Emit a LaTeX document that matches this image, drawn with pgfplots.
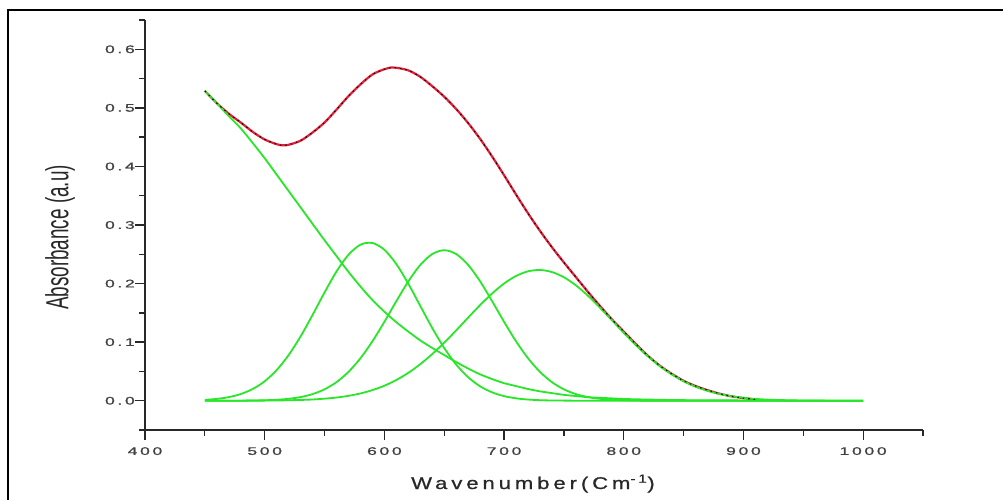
\documentclass[border=0pt]{standalone}
\usepackage{fontspec}
\setmainfont{Liberation Sans}
\newfontfamily\tickfont[LetterSpace=15,FakeBold=0.8]{Liberation Sans}
\newfontfamily\xlabfont[FakeStretch=1.3,LetterSpace=23,FakeBold=0.8]{Liberation Sans}
\newfontfamily\ylabfont[FakeStretch=0.59]{Liberation Sans}
\usepackage{graphicx}
\usepackage{pgfplots}
\pgfplotsset{compat=1.18}
\newcommand{\TickLab}[1]{\scalebox{1.6}[1]{\tickfont\fontsize{11}{13}\selectfont #1}}
\definecolor{fitgreen}{RGB}{40,230,40}
\definecolor{fitred}{RGB}{228,30,55}
\definecolor{axgray}{RGB}{40,40,40}
\definecolor{tickgray}{RGB}{65,65,65}
\begin{document}
\begin{tikzpicture}[x=1pt,y=1pt]
\path[use as bounding box] (0,0) rectangle (1003,499);
\draw[line width=2pt,black] (8,-2) -- (8,489) -- (1005,489);
\begin{axis}[
  scale only axis,
  width=778pt, height=410pt,
  at={(145pt,69pt)}, anchor=south west,
  xmin=400, xmax=1050, ymin=-0.05, ymax=0.65,
  axis lines*=left,
  axis line style={line width=1.5pt, axgray, -},
  tick align=outside,
  major tick length=10pt, minor tick length=6pt,
  tick style={line width=1.3pt, axgray},
  xtick={400,500,600,700,800,900,1000},
  xticklabels={\TickLab{400},\TickLab{500},\TickLab{600},\TickLab{700},\TickLab{800},\TickLab{900},\TickLab{1000}},
  minor xtick={450,550,650,750,850,950,1050},
  ytick={0,0.1,0.2,0.3,0.4,0.5,0.6},
  yticklabels={\TickLab{0.0},\TickLab{0.1},\TickLab{0.2},\TickLab{0.3},\TickLab{0.4},\TickLab{0.5},\TickLab{0.6}},
  minor ytick={-0.05,0.05,0.15,0.25,0.35,0.45,0.55,0.65},
  every tick label/.append style={text=tickgray, inner sep=0pt},
  every x tick label/.append style={anchor=north, yshift=-7pt},
  every y tick label/.append style={anchor=east},
  clip=false,
]
\addplot[fitred, line width=2.2pt, smooth] coordinates {
(450,0.529)(460,0.508)(470,0.490)(480,0.475)(490,0.459)(500,0.446)(510,0.438)(515,0.436)(520,0.437)(530,0.444)(540,0.458)(550,0.475)(560,0.497)(570,0.520)(580,0.540)(590,0.557)(600,0.566)(606,0.569)(610,0.5685)(620,0.564)(630,0.553)(640,0.537)(650,0.519)(660,0.498)(670,0.474)(680,0.447)(690,0.417)(700,0.385)(710,0.352)(720,0.320)(730,0.290)(740,0.262)(750,0.236)(760,0.211)(770,0.186)(780,0.162)(790,0.139)(800,0.118)(810,0.097)(820,0.077)(830,0.060)(840,0.046)(850,0.034)(860,0.025)(870,0.018)(880,0.012)(890,0.0075)(900,0.0045)(910,0.002)
};
\addplot[fitgreen, line width=1.8pt, smooth] coordinates {
(450,0.529)(460,0.508)(470,0.486)(480,0.465)(490,0.440)(500,0.414)(510,0.386)(520,0.358)(530,0.330)(540,0.302)(550,0.274)(560,0.247)(570,0.220)(580,0.195)(590,0.172)(600,0.152)(610,0.134)(620,0.118)(630,0.103)(640,0.090)(650,0.078)(660,0.066)(670,0.055)(680,0.045)(690,0.037)(700,0.030)(710,0.025)(720,0.020)(730,0.016)(740,0.013)(750,0.010)(760,0.008)(770,0.006)(780,0.005)(790,0.004)(800,0.003)(820,0.002)(850,0.001)(900,0.0005)(950,0)(1000,0)
};
\addplot[fitgreen, line width=1.8pt, smooth] coordinates {
(450,0.0015)(460,0.0031)(470,0.0061)(480,0.0114)(490,0.0200)(500,0.0332)(510,0.0523)(520,0.0779)(530,0.1098)(540,0.1465)(550,0.1848)(560,0.2207)(570,0.2492)(580,0.2664)(590,0.2693)(600,0.2577)(610,0.2332)(620,0.1997)(630,0.1618)(640,0.1241)(650,0.0900)(660,0.0617)(670,0.0401)(680,0.0246)(690,0.0143)(700,0.0079)(710,0.0041)(720,0.0020)(730,0.0009)(740,0.0004)(750,0.0002)(760,0.0001)(800,0)(900,0)(1000,0)
};
\addplot[fitgreen, line width=1.8pt, smooth] coordinates {
(450,0)(480,0.0001)(490,0.0003)(500,0.0008)(510,0.0016)(520,0.0033)(530,0.0062)(540,0.0113)(550,0.0194)(560,0.0317)(570,0.0492)(580,0.0725)(590,0.1014)(600,0.1347)(610,0.1700)(620,0.2037)(630,0.2318)(640,0.2504)(650,0.2570)(660,0.2504)(670,0.2318)(680,0.2037)(690,0.1700)(700,0.1347)(710,0.1014)(720,0.0725)(730,0.0492)(740,0.0317)(750,0.0194)(760,0.0113)(770,0.0062)(780,0.0033)(790,0.0016)(800,0.0008)(810,0.0003)(820,0.0001)(850,0)(900,0)(1000,0)
};
\addplot[fitgreen, line width=1.8pt, smooth] coordinates {
(450,0)(480,0.0001)(500,0.0002)(510,0.0004)(520,0.0008)(530,0.0013)(540,0.0021)(550,0.0035)(560,0.0054)(570,0.0083)(580,0.0124)(590,0.0181)(600,0.0256)(610,0.0354)(620,0.0476)(630,0.0624)(640,0.0797)(650,0.0991)(660,0.1201)(670,0.1419)(680,0.1633)(690,0.1831)(700,0.2001)(710,0.2130)(720,0.2209)(730,0.2232)(740,0.2197)(750,0.2108)(760,0.1970)(770,0.1794)(780,0.1591)(790,0.1376)(800,0.1159)(810,0.0951)(820,0.0760)(830,0.0592)(840,0.0450)(850,0.0332)(860,0.0239)(870,0.0168)(880,0.0115)(890,0.0077)(900,0.0050)(910,0.0031)(920,0.0019)(930,0.0012)(940,0.0007)(950,0.0004)(960,0.0002)(970,0.0001)(980,0)(1000,0)
};
\addplot[black, line width=1pt, smooth, dash pattern=on 1.5pt off 4pt] coordinates {
(450,0.529)(460,0.508)(470,0.490)(480,0.475)(490,0.459)(500,0.446)(510,0.438)(515,0.436)(520,0.437)(530,0.444)(540,0.458)(550,0.475)(560,0.497)(570,0.520)(580,0.540)(590,0.557)(600,0.566)(606,0.569)(610,0.5685)(620,0.564)(630,0.553)(640,0.537)(650,0.519)(660,0.498)(670,0.474)(680,0.447)(690,0.417)(700,0.385)(710,0.352)(720,0.320)(730,0.290)(740,0.262)(750,0.236)(760,0.211)(770,0.186)(780,0.162)(790,0.139)(800,0.118)(810,0.097)(820,0.077)(830,0.060)(840,0.046)(850,0.034)(860,0.025)(870,0.018)(880,0.012)(890,0.0075)(900,0.0045)(910,0.002)
};
\end{axis}
\node[rotate=90, text=axgray, inner sep=0pt, font=\ylabfont\fontsize{32}{36}\selectfont] at (60,261.5) {Absorbance (a.u)};
\node[text=axgray, inner sep=0pt, anchor=base, font=\xlabfont\fontsize{17}{20}\selectfont] at (533,10) {Wavenumber(Cm\textsuperscript{-1})};
\end{tikzpicture}
\end{document}
